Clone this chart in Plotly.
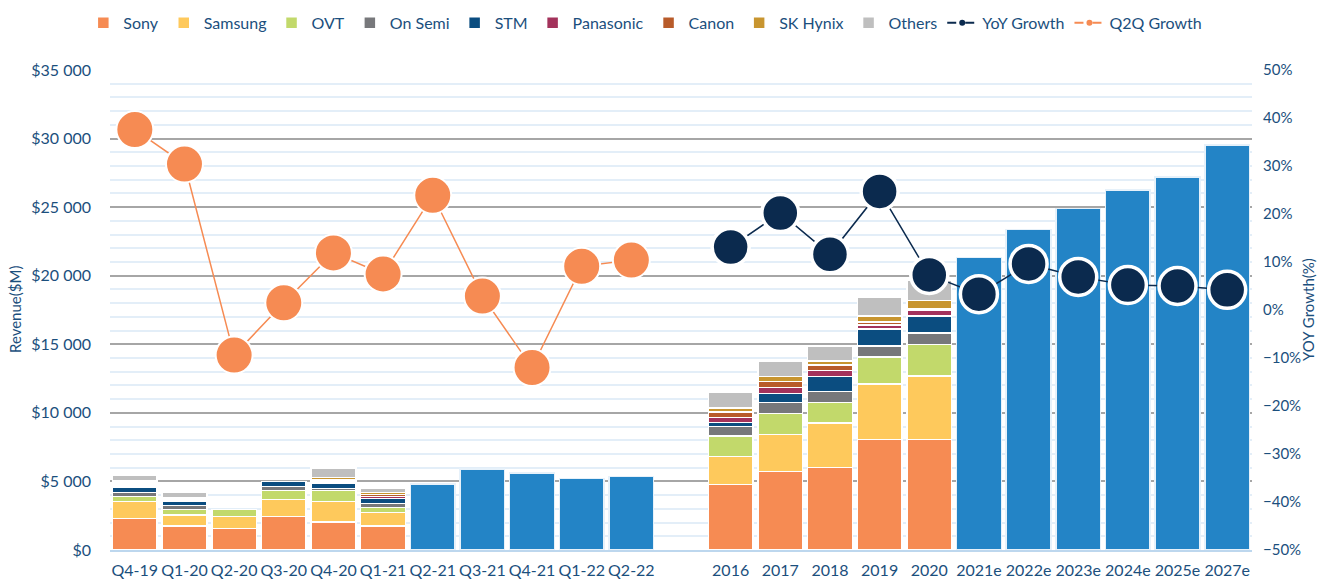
import plotly.graph_objects as go

# ---- categories ----
quarters = ["Q4-19", "Q1-20", "Q2-20", "Q3-20", "Q4-20", "Q1-21",
            "Q2-21", "Q3-21", "Q4-21", "Q1-22", "Q2-22"]
years = ["2016", "2017", "2018", "2019", "2020",
         "2021e", "2022e", "2023e", "2024e", "2025e", "2027e"]

# ---- quarterly breakdown (first 6 quarters), $M ----
q_sony      = [2310, 1750, 1580, 2430, 2040, 1750]
q_samsung   = [1210,  800,  850, 1265, 1510,  970]
q_ovt       = [ 390,  415,  535,  630,  800,  390]
q_onsemi    = [ 300,  265,    0,  290,  150,  290]
q_stm       = [ 380,  290,    0,  390,  385,  370]
q_panasonic = [ 150,  100,    0,    0,  130,  145]
q_canon     = [ 150,  100,    0,    0,  130,  145]
q_skhynix   = [ 130,   90,    0,    0,  130,  145]
q_others    = [ 420,  390,    0,    0,  700,  265]
q_total     = [None] * 6 + [4830, 5890, 5620, 5210, 5360]

# ---- yearly breakdown (2016-2020), $M ----
y_sony      = [4790, 5710, 6000, 8040, 8040]
y_samsung   = [2040, 2720, 3260, 4080, 4650]
y_ovt       = [1480, 1510, 1510, 1950, 2310]
y_onsemi    = [ 680,  800,  770,  800,  820]
y_stm       = [ 290,  680, 1120, 1240, 1240]
y_panasonic = [ 365,  440,  440,  290,  410]
y_canon     = [ 435,  410,  390,  240,  120]
y_skhynix   = [ 270,  390,  290,  420,  590]
y_others    = [1120, 1120, 1090, 1360, 1500]
y_total     = [None] * 5 + [21340, 23380, 24890, 26250, 27190, 29520]

# ---- growth rates (%) ----
q2q_growth = [37.6, 30.4, -9.4, 1.5, 11.9, 7.5, 23.9, 2.9, -12.0, 9.1, 10.4]
yoy_growth = [13.1, 20.2, 11.6, 24.7, 7.3, 3.3, 9.6, 6.9, 5.2, 5.0, 4.2]

companies = ["Sony", "Samsung", "OVT", "On Semi", "STM", "Panasonic",
             "Canon", "SK Hynix", "Others"]
colors = ["#F68B53", "#FEC95C", "#C2D96B", "#77787B", "#0B4D80",
          "#A3325B", "#B85B2A", "#C8952F", "#BFBFBF"]
q_series = [q_sony, q_samsung, q_ovt, q_onsemi, q_stm, q_panasonic,
            q_canon, q_skhynix, q_others]
y_series = [y_sony, y_samsung, y_ovt, y_onsemi, y_stm, y_panasonic,
            y_canon, y_skhynix, y_others]

# x positions: quarters, one empty slot, then years
x_q = list(range(len(quarters)))
x_y = list(range(len(quarters) + 1, len(quarters) + 1 + len(years)))
tickvals = x_q + x_y
ticktext = quarters + years

TEXT = "#1B4F7D"
FONT = "Lato"

fig = go.Figure()
for name, col, qs, ys in zip(companies, colors, q_series, y_series):
    fig.add_trace(go.Bar(
        x=x_q[:len(qs)] + x_y[:len(ys)], y=qs + ys, name=name,
        marker=dict(color=col, line=dict(color="white", width=1.5)),
        width=0.9,
    ))

fig.add_trace(go.Bar(
    x=x_q + x_y, y=q_total + y_total, name="Total", showlegend=False,
    marker=dict(color="#2384C6", line=dict(color="#E6F1FA", width=1.5)),
    width=0.9,
))

# growth lines on secondary axis
fig.add_trace(go.Scatter(
    x=x_y, y=yoy_growth, yaxis="y2", mode="lines+markers", showlegend=False,
    line=dict(color="#0B2A4E", width=1.5),
    marker=dict(size=37, color="#0B2A4E", line=dict(color="white", width=3.5)),
))
fig.add_trace(go.Scatter(
    x=x_q, y=q2q_growth, yaxis="y2", mode="lines+markers", showlegend=False,
    line=dict(color="#F68B53", width=1.5),
    marker=dict(size=37, color="#F68B53", line=dict(color="white", width=2)),
))
# legend proxies (small markers like the original legend)
fig.add_trace(go.Scatter(
    x=[None], y=[None], yaxis="y2", mode="lines+markers", name="YoY Growth",
    line=dict(color="#0B2A4E", width=2, dash="dash"),
    marker=dict(size=6, color="#0B2A4E"),
))
fig.add_trace(go.Scatter(
    x=[None], y=[None], yaxis="y2", mode="lines+markers", name="Q2Q Growth",
    line=dict(color="#F68B53", width=2, dash="dash"),
    marker=dict(size=6, color="#F68B53"),
))

fig.update_layout(
    width=1317, height=580,
    margin=dict(l=110, r=65, t=70, b=30, autoexpand=False),
    barmode="stack", bargap=0.1,
    paper_bgcolor="white", plot_bgcolor="white",
    separators=". ",
    font=dict(family=FONT, color=TEXT, size=15),
    legend=dict(orientation="h", xref="container", x=0.49, xanchor="center",
                yref="container", y=0.99, yanchor="top",
                font=dict(size=16, color=TEXT), itemwidth=30,
                tracegroupgap=0, traceorder="normal"),
    xaxis=dict(range=[-0.5, 22.5], tickmode="array", tickvals=tickvals,
               ticktext=ticktext, showgrid=False, zeroline=False,
               showline=True, linecolor="#BDD7EE", linewidth=2,
               tickfont=dict(size=16, color=TEXT), ticks="",
               ticklabelstandoff=5, automargin=False),
    yaxis=dict(range=[0, 35000], tickmode="linear", tick0=0, dtick=5000,
               tickprefix="$", tickformat=",d", showgrid=True,
               gridcolor="#A6A6A6", gridwidth=1.5, zeroline=False,
               minor=dict(dtick=1000, showgrid=True, gridcolor="#E3EEF8",
                          gridwidth=1.5),
               tickfont=dict(size=16, color=TEXT), ticks="",
               ticklabelstandoff=18, automargin=False),
    yaxis2=dict(range=[-50, 50], overlaying="y", side="right",
                tickmode="linear", tick0=-50, dtick=10, ticksuffix="%",
                showgrid=False, zeroline=False,
                tickfont=dict(size=15, color=TEXT), ticks="",
                ticklabelstandoff=10, automargin=False),
    annotations=[
        dict(text="Revenue($M)", xref="paper", yref="paper", x=0, y=0.5,
             xanchor="center", yanchor="middle",
             xshift=-95, textangle=-90, showarrow=False,
             font=dict(size=15, color=TEXT)),
        dict(text="YOY Growth(%)", xref="paper", yref="paper", x=1, y=0.5,
             xanchor="center", yanchor="middle",
             xshift=56, textangle=-90, showarrow=False,
             font=dict(size=15, color=TEXT)),
    ],
)

# remove the browser's default 8px page margin so the figure fills the window
fig.write_html("out.html", config={"displayModeBar": False},
               post_script="document.body.style.margin='0';")
